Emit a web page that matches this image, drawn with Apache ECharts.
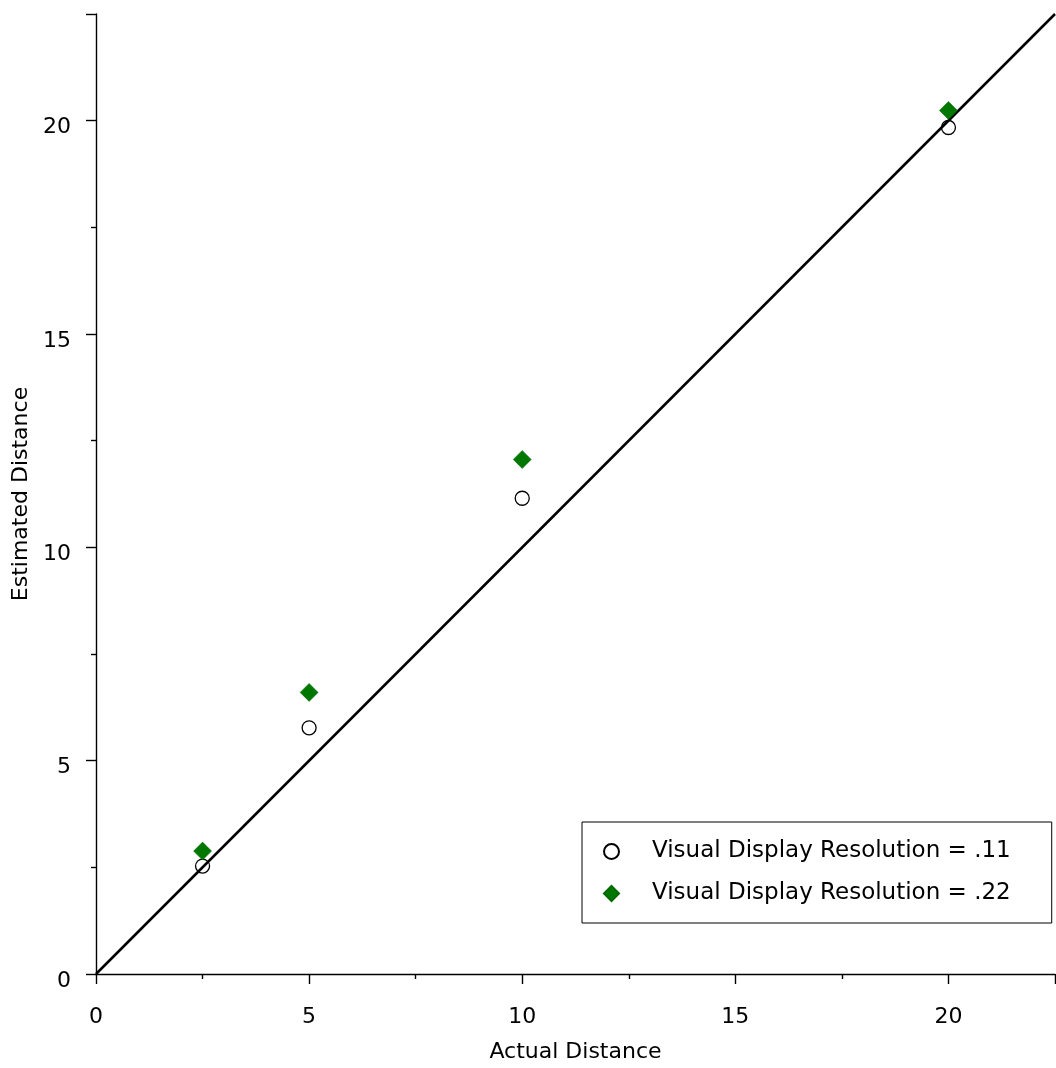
<!DOCTYPE html>
<html>
<head>
<meta charset="utf-8">
<script src="https://cdn.jsdelivr.net/npm/echarts@6/dist/echarts.min.js"></script>
<style>
  html, body { margin: 0; padding: 0; background: #fff; }
  #chart { width: 1056px; height: 1068px; }
</style>
</head>
<body>
<div id="chart"></div>
<script>
// Actual distances presented and mean estimated distances
const actualDistance = [2.5, 5, 10, 20];
const estimatedLow = [2.53, 5.77, 11.15, 19.84];   // resolution .11
const estimatedHigh = [2.88, 6.6, 12.06, 20.24];   // resolution .22
const seriesNames = ['Visual Display Resolution = .11', 'Visual Display Resolution = .22'];
// Reference line of perfect estimation (y = x)
const identityRange = [0, 22.5];
const axisTicks = [0, 5, 10, 15, 20];

const font = 'DejaVu Sans, Verdana, sans-serif';

function axisCommon(name) {
  return {
    type: 'value',
    min: 0,
    max: 22.5,
    interval: 5,
    name: name,
    nameLocation: 'middle',
    nameTextStyle: { fontFamily: font, fontSize: 22, color: '#000' },
    axisLine: { show: true, onZero: false, lineStyle: { color: '#000', width: 1.4 } },
    axisTick: { show: true, inside: false, length: 10, lineStyle: { color: '#000', width: 1.4 } },
    minorTick: { show: true, splitNumber: 2, length: 5, lineStyle: { color: '#000', width: 1.4 } },
    splitLine: { show: false },
    axisLabel: {
      fontFamily: font, fontSize: 22, color: '#000',
      formatter: v => axisTicks.includes(v) ? String(v) : ''
    }
  };
}

const xAxis = axisCommon('Actual Distance');
xAxis.nameGap = 67;
xAxis.axisLabel.margin = 32;

const yAxis = axisCommon('Estimated Distance');
yAxis.nameGap = 63;
yAxis.axisLabel.margin = 25;
yAxis.axisLabel.verticalAlign = 'top';
yAxis.axisLabel.lineHeight = 14;

const chart = echarts.init(document.getElementById('chart'), null, { renderer: 'canvas' });
chart.setOption({
  animation: false,
  backgroundColor: '#fff',
  grid: { left: 96, right: 1, top: 14, bottom: 94, containLabel: false, outerBoundsMode: 'none' },
  xAxis: xAxis,
  yAxis: yAxis,
  legend: {
    orient: 'vertical',
    left: 582,
    top: 822,
    backgroundColor: '#fff',
    borderColor: '#000',
    borderWidth: 1,
    padding: [18, 41, 18, 21],
    itemWidth: 15,
    itemHeight: 15,
    itemGap: 19,
    data: seriesNames,
    textStyle: { fontFamily: font, fontSize: 23, color: '#000', lineHeight: 15, padding: [0, 0, 0, 28] }
  },
  series: [
    {
      type: 'line',
      data: identityRange.map(v => [v, v]),
      symbol: 'none',
      lineStyle: { color: '#000', width: 2.5 },
      silent: true,
      z: 1
    },
    {
      name: seriesNames[0],
      type: 'scatter',
      data: actualDistance.map((x, i) => [x, estimatedLow[i]]),
      symbol: 'circle',
      symbolSize: 14,
      itemStyle: { color: 'rgba(255,255,255,0)', borderColor: '#000', borderWidth: 1.3, opacity: 1 },
      z: 3
    },
    {
      name: seriesNames[1],
      type: 'scatter',
      data: actualDistance.map((x, i) => [x, estimatedHigh[i]]),
      symbol: 'diamond',
      symbolSize: 18,
      itemStyle: { color: '#007800', borderColor: '#006a00', borderWidth: 0.5, opacity: 1 },
      z: 4
    }
  ]
});
</script>
</body>
</html>
